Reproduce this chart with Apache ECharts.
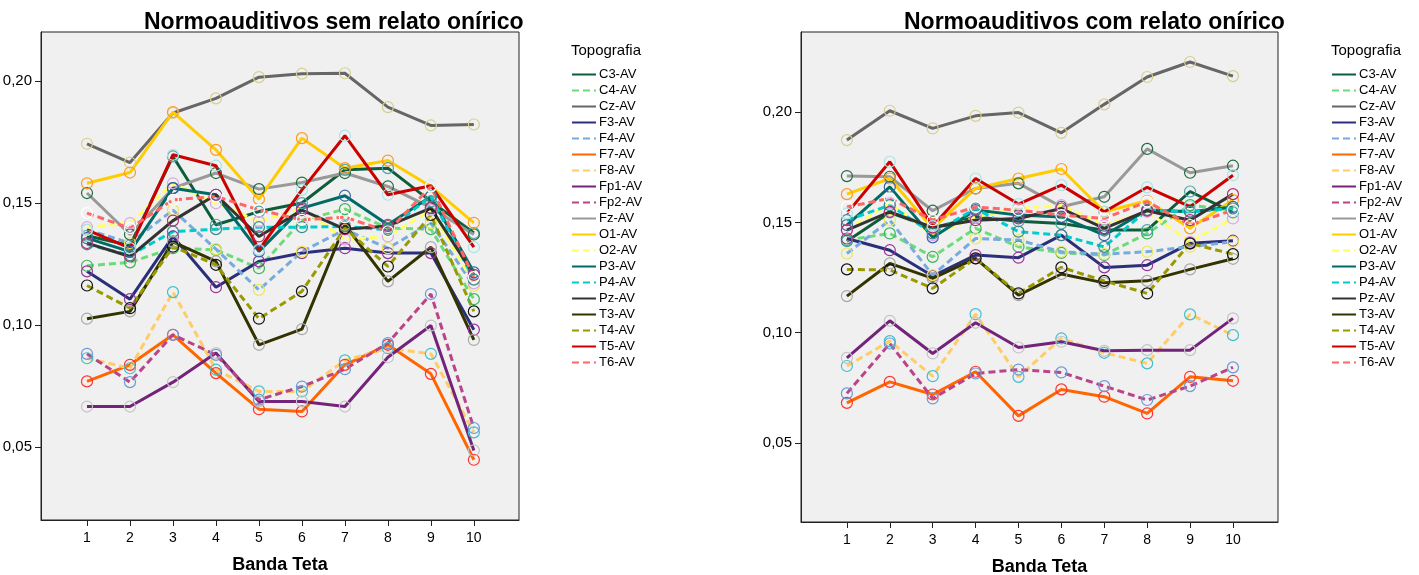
<!DOCTYPE html>
<html>
<head>
<meta charset="utf-8">
<script src="https://cdn.jsdelivr.net/npm/echarts@6/dist/echarts.min.js"></script>
<style>
html, body { margin: 0; padding: 0; background: #ffffff; }
#chart { width: 1419px; height: 575px; }
</style>
</head>
<body>
<div id="chart"></div>
<script>
// Theta band index (x axis)
const bands = [1, 2, 3, 4, 5, 6, 7, 8, 9, 10];
const yTicks = [0.05, 0.10, 0.15, 0.20];

// Electrode derivations (average reference)
const electrodes = ['C3-AV', 'C4-AV', 'Cz-AV', 'F3-AV', 'F4-AV', 'F7-AV', 'F8-AV', 'Fp1-AV', 'Fp2-AV', 'Fz-AV',
                    'O1-AV', 'O2-AV', 'P3-AV', 'P4-AV', 'Pz-AV', 'T3-AV', 'T4-AV', 'T5-AV', 'T6-AV'];

// Normal hearing, no dream report
const semC3  = [0.1365, 0.1325, 0.1690, 0.1410, 0.1464, 0.1499, 0.1635, 0.1642, 0.1506, 0.1376];
const semC4  = [0.1242, 0.1256, 0.1314, 0.1307, 0.1232, 0.1428, 0.1474, 0.1396, 0.1392, 0.1105];
const semCz  = [0.1742, 0.1665, 0.1868, 0.1928, 0.2015, 0.2029, 0.2031, 0.1892, 0.1817, 0.1821];
const semF3  = [0.1219, 0.1105, 0.1362, 0.1154, 0.1260, 0.1294, 0.1314, 0.1294, 0.1294, 0.0980];
const semF4  = [0.1390, 0.1335, 0.1470, 0.1310, 0.1143, 0.1300, 0.1390, 0.1314, 0.1417, 0.1160];
const semF7  = [0.0768, 0.0836, 0.0959, 0.0802, 0.0654, 0.0645, 0.0836, 0.0918, 0.0799, 0.0447];
const semF8  = [0.0863, 0.0822, 0.1134, 0.0816, 0.0727, 0.0727, 0.0854, 0.0904, 0.0881, 0.0559];
const semFp1 = [0.0665, 0.0665, 0.0765, 0.0884, 0.0686, 0.0686, 0.0665, 0.0867, 0.0997, 0.0485];
const semFp2 = [0.0881, 0.0765, 0.0959, 0.0877, 0.0693, 0.0747, 0.0818, 0.0925, 0.1126, 0.0577];
const semFz  = [0.1540, 0.1370, 0.1560, 0.1622, 0.1556, 0.1583, 0.1622, 0.1567, 0.1480, 0.1370];
const semO1  = [0.1580, 0.1624, 0.1872, 0.1717, 0.1515, 0.1765, 0.1642, 0.1673, 0.1567, 0.1418];
const semO2  = [0.1400, 0.1417, 0.1580, 0.1498, 0.1424, 0.1478, 0.1350, 0.1362, 0.1471, 0.1170];
const semP3  = [0.1355, 0.1300, 0.1560, 0.1533, 0.1301, 0.1478, 0.1529, 0.1410, 0.1526, 0.1215];
const semP4  = [0.1330, 0.1285, 0.1382, 0.1392, 0.1400, 0.1400, 0.1403, 0.1389, 0.1527, 0.1185];
const semPz  = [0.1335, 0.1280, 0.1427, 0.1533, 0.1362, 0.1470, 0.1392, 0.1405, 0.1478, 0.1205];
const semT3  = [0.1025, 0.1055, 0.1340, 0.1260, 0.0918, 0.0982, 0.1410, 0.1178, 0.1318, 0.0938];
const semT4  = [0.1161, 0.1068, 0.1320, 0.1246, 0.1025, 0.1137, 0.1396, 0.1239, 0.1450, 0.1055];
const semT5  = [0.1389, 0.1314, 0.1697, 0.1652, 0.1307, 0.1553, 0.1775, 0.1533, 0.1570, 0.1318];
const semT6  = [0.1458, 0.1396, 0.1512, 0.1526, 0.1471, 0.1430, 0.1441, 0.1383, 0.1567, 0.1195];

// Normal hearing, with dream report
const comC3  = [0.1415, 0.1545, 0.1475, 0.1525, 0.1505, 0.1495, 0.1465, 0.1465, 0.1640, 0.1545];
const comC4  = [0.1420, 0.1450, 0.1344, 0.1473, 0.1390, 0.1362, 0.1352, 0.1450, 0.1578, 0.1556];
const comCz  = [0.1873, 0.2006, 0.1926, 0.1983, 0.1998, 0.1906, 0.2035, 0.2159, 0.2227, 0.2163];
const comF3  = [0.1427, 0.1374, 0.1257, 0.1352, 0.1340, 0.1442, 0.1296, 0.1306, 0.1405, 0.1417];
const comF4  = [0.1359, 0.1510, 0.1261, 0.1427, 0.1420, 0.1367, 0.1356, 0.1367, 0.1390, 0.1412];
const comF7  = [0.0682, 0.0777, 0.0720, 0.0823, 0.0623, 0.0743, 0.0710, 0.0634, 0.0800, 0.0782];
const comF8  = [0.0849, 0.0962, 0.0803, 0.1084, 0.0800, 0.0974, 0.0909, 0.0861, 0.1083, 0.0989];
const comFp1 = [0.0886, 0.1054, 0.0906, 0.1045, 0.0933, 0.0959, 0.0918, 0.0921, 0.0921, 0.1065];
const comFp2 = [0.0725, 0.0951, 0.0702, 0.0815, 0.0833, 0.0820, 0.0758, 0.0695, 0.0758, 0.0843];
const comFz  = [0.1710, 0.1707, 0.1553, 0.1654, 0.1677, 0.1571, 0.1616, 0.1833, 0.1725, 0.1757];
const comO1  = [0.1628, 0.1699, 0.1473, 0.1654, 0.1699, 0.1742, 0.1548, 0.1598, 0.1473, 0.1601];
const comO2  = [0.1465, 0.1586, 0.1442, 0.1525, 0.1563, 0.1578, 0.1488, 0.1548, 0.1412, 0.1518];
const comP3  = [0.1488, 0.1661, 0.1432, 0.1556, 0.1533, 0.1525, 0.1442, 0.1556, 0.1548, 0.1570];
const comP4  = [0.1510, 0.1578, 0.1450, 0.1563, 0.1458, 0.1442, 0.1389, 0.1556, 0.1548, 0.1563];
const comPz  = [0.1465, 0.1548, 0.1477, 0.1510, 0.1518, 0.1563, 0.1473, 0.1553, 0.1510, 0.1628];
const comT3  = [0.1166, 0.1314, 0.1246, 0.1337, 0.1170, 0.1266, 0.1226, 0.1235, 0.1287, 0.1335];
const comT4  = [0.1287, 0.1284, 0.1201, 0.1337, 0.1178, 0.1296, 0.1235, 0.1178, 0.1405, 0.1356];
const comT5  = [0.1541, 0.1775, 0.1483, 0.1699, 0.1583, 0.1669, 0.1548, 0.1659, 0.1571, 0.1714];
const comT6  = [0.1570, 0.1609, 0.1510, 0.1570, 0.1555, 0.1533, 0.1518, 0.1594, 0.1488, 0.1556];

const semRelato = [semC3, semC4, semCz, semF3, semF4, semF7, semF8, semFp1, semFp2, semFz,
                   semO1, semO2, semP3, semP4, semPz, semT3, semT4, semT5, semT6];
const comRelato = [comC3, comC4, comCz, comF3, comF4, comF7, comF8, comFp1, comFp2, comFz,
                   comO1, comO2, comP3, comP4, comPz, comT3, comT4, comT5, comT6];

// Line styling per electrode
const lineColors = ['#0d5c3a', '#6ddc78', '#666666', '#2b2f7a', '#77aadd', '#ff6600', '#ffcc66', '#73237a', '#bb4488', '#999999',
                    '#ffcc00', '#ffff66', '#006b66', '#00cccc', '#333333', '#333300', '#999900', '#cc0000', '#ff6666'];
const dashedLines = [false, true, false, false, true, false, true, false, true, false,
                     false, true, false, true, false, false, true, false, true];
// Hollow marker outline colours
const markerColors = ['#4aa6a6', '#3cb45a', '#d6cf8f', '#993399', '#e8e855', '#ff3333', '#3fbfcc', '#c4c4c4', '#6a9ad8', '#1f6b3f',
                      '#ff9922', '#d8a8e8', '#3a62a8', '#3a8a8a', '#b03070', '#a8a8a8', '#111111', '#a8e4e8', '#ffffff'];

const fmt = v => v.toFixed(2).replace('.', ',');
const font = 'Liberation Sans, Arial, sans-serif';

function makeSeries(values, panel) {
  return electrodes.map((name, i) => ({
    type: 'line',
    name: name,
    xAxisIndex: panel,
    yAxisIndex: panel,
    data: bands.map((b, j) => [b, values[i][j]]),
    symbol: 'circle',
    symbolSize: 11,
    showSymbol: true,
    lineStyle: { color: lineColors[i], width: 3, type: dashedLines[i] ? [7, 4] : 'solid' },
    itemStyle: { color: 'rgba(0,0,0,0)', borderColor: markerColors[i], borderWidth: 1.2 },
    emphasis: { disabled: true },
    z: 2
  }));
}

function xAxis(gridIndex) {
  return {
    type: 'value', gridIndex, min: -0.07, max: 11.05,
    name: 'Banda Teta', nameLocation: 'middle', nameGap: 36,
    nameTextStyle: { fontFamily: font, fontWeight: 'bold', fontSize: 18, color: '#000' },
    axisLine: { show: true, onZero: false, lineStyle: { color: '#222', width: 1 } },
    axisTick: { show: true, length: 6, customValues: bands, lineStyle: { color: '#222' } },
    axisLabel: { customValues: bands, fontFamily: font, fontSize: 14, color: '#000', margin: 11 },
    splitLine: { show: false }
  };
}

function yAxis(gridIndex, min, max) {
  return {
    type: 'value', gridIndex, min, max,
    axisLine: { show: true, onZero: false, lineStyle: { color: '#222', width: 1 } },
    axisTick: { show: true, length: 6, customValues: yTicks, lineStyle: { color: '#222' } },
    axisLabel: { customValues: yTicks, formatter: fmt, fontFamily: font, fontSize: 15, color: '#000', margin: 9 },
    splitLine: { show: false }
  };
}

function legend(left) {
  return {
    orient: 'vertical', left, top: 63,
    data: electrodes,
    itemWidth: 24, itemHeight: 10, itemGap: 3,
    selectedMode: false,
    itemStyle: { opacity: 0 },
    textStyle: { fontFamily: font, fontSize: 13, color: '#000', padding: [0, 0, 0, -2] }
  };
}

const chart = echarts.init(document.getElementById('chart'), null, { renderer: 'canvas' });
chart.setOption({
  animation: false,
  backgroundColor: '#ffffff',
  title: [
    { text: 'Normoauditivos sem relato onírico', left: 139, top: 6,
      textStyle: { fontFamily: font, fontWeight: 'bold', fontSize: 23, color: '#000' } },
    { text: 'Normoauditivos com relato onírico', left: 899, top: 6,
      textStyle: { fontFamily: font, fontWeight: 'bold', fontSize: 23, color: '#000' } },
    { text: 'Topografia', left: 566, top: 38,
      textStyle: { fontFamily: font, fontWeight: 'normal', fontSize: 15, color: '#000' } },
    { text: 'Topografia', left: 1326, top: 38,
      textStyle: { fontFamily: font, fontWeight: 'normal', fontSize: 15, color: '#000' } }
  ],
  grid: [
    { left: 41, top: 32, width: 478, height: 488, outerBoundsMode: 'none', show: true,
      backgroundColor: '#f0f0f0', borderColor: '#222', borderWidth: 1 },
    { left: 801, top: 32, width: 477, height: 490, outerBoundsMode: 'none', show: true,
      backgroundColor: '#f0f0f0', borderColor: '#222', borderWidth: 1 }
  ],
  xAxis: [xAxis(0), xAxis(1)],
  yAxis: [yAxis(0, 0.02, 0.22), yAxis(1, 0.0142, 0.2363)],
  legend: [legend(566), legend(1326)],
  series: makeSeries(semRelato, 0).concat(makeSeries(comRelato, 1))
});
</script>
</body>
</html>
